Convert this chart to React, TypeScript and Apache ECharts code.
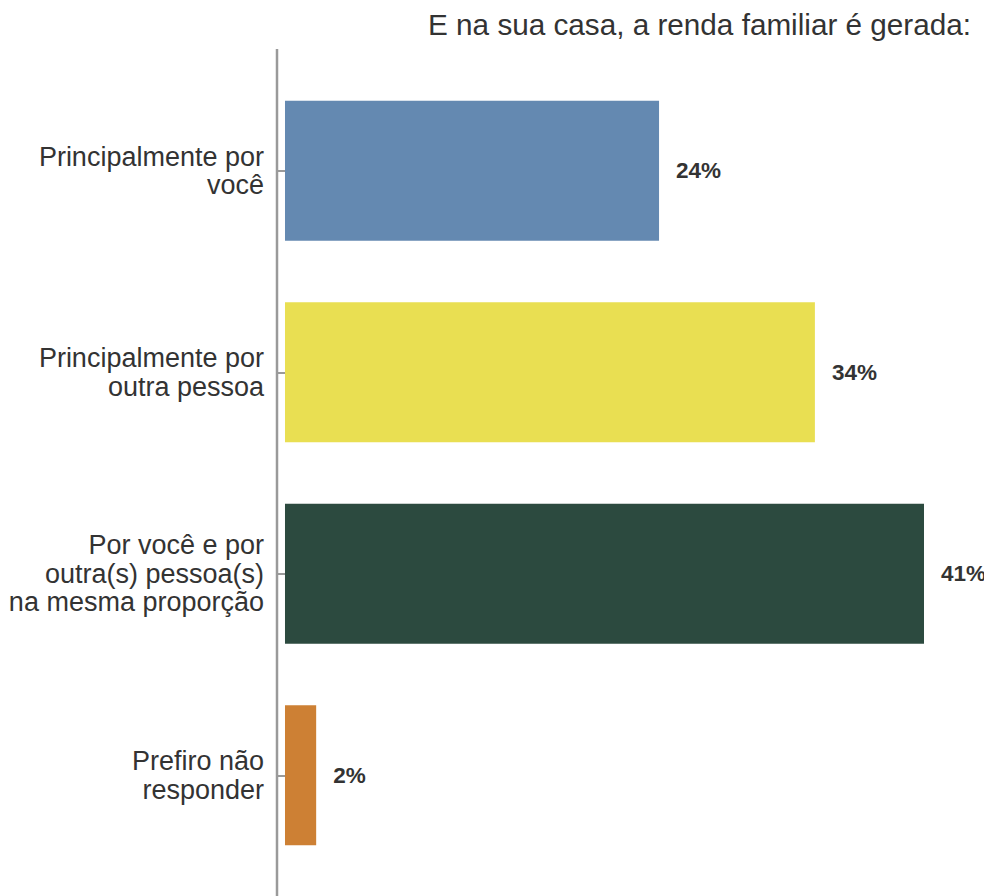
import React, { useEffect, useRef } from "react";
import * as echarts from "echarts";

const categories = [
  "Principalmente por\nvocê",
  "Principalmente por\noutra pessoa",
  "Por você e por\noutra(s) pessoa(s)\nna mesma proporção",
  "Prefiro não\nresponder",
];
const values = [24, 34, 41, 2];
const colors = ["#6489b1", "#e9df52", "#2c4a3f", "#cd8034"];
const title = "E na sua casa, a renda familiar é gerada:";

export default function App() {
  const ref = useRef<HTMLDivElement>(null);
  useEffect(() => {
    document.body.style.margin = "0";
    const chart = echarts.init(ref.current!, undefined, { renderer: "svg" });
    chart.setOption({
      animation: false,
      textStyle: { fontFamily: "Liberation Sans, Arial, sans-serif" },
      title: {
        text: title,
        right: 8,
        top: 4,
        textStyle: { fontSize: 29.7, fontWeight: "normal", color: "#333333" },
      },
      grid: { left: 277, right: 0, top: 70, height: 806 },
      xAxis: {
        type: "value",
        min: -0.513,
        max: 44.85,
        show: false,
      },
      yAxis: {
        type: "category",
        inverse: true,
        data: categories,
        axisLine: { show: false },
        axisTick: {
          show: true,
          alignWithLabel: true,
          length: 7,
          lineStyle: { color: "#9a9a9a", width: 2 },
        },
        axisLabel: {
          margin: 13,
          fontSize: 27,
          lineHeight: 28.5,
          color: "#333333",
          align: "right",
        },
      },
      graphic: [
        {
          type: "line",
          shape: { x1: 277, y1: 49, x2: 277, y2: 896 },
          style: { stroke: "#9a9a9a", lineWidth: 2.5 },
          z: 10,
        },
      ],
      series: [
        {
          type: "bar",
          barWidth: 140,
          data: values.map((v, i) => ({ value: v, itemStyle: { color: colors[i] } })),
          label: {
            show: true,
            position: "right",
            distance: 17,
            formatter: "{c}%",
            fontSize: 22.5,
            fontWeight: "bold",
            color: "#333333",
          },
        },
      ],
    });
    return () => chart.dispose();
  }, []);
  return (
    <div
      ref={ref}
      style={{ position: "absolute", left: 0, top: 0, width: 984, height: 896 }}
    />
  );
}
